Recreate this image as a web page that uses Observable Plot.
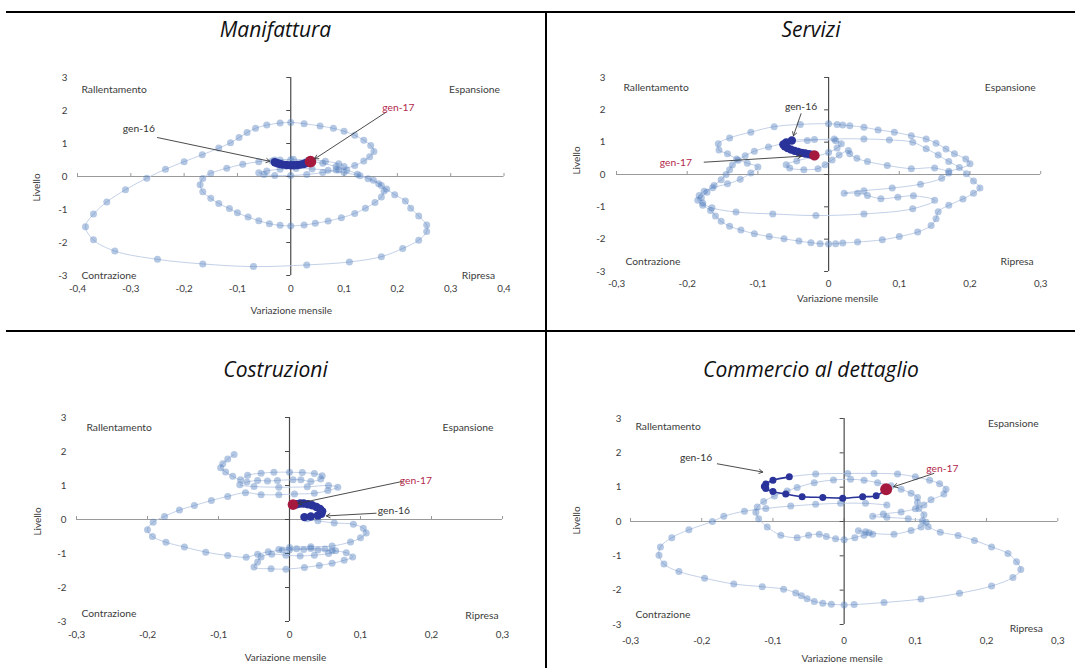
<!DOCTYPE html>
<html><head><meta charset="utf-8">
<script src="https://cdn.jsdelivr.net/npm/d3@7"></script>
<script src="https://cdn.jsdelivr.net/npm/@observablehq/plot@0.6"></script>
<style>
body{margin:0;background:#fff;}
#page{position:relative;width:1075px;height:668px;overflow:hidden;font-family:Lato,"Open Sans",sans-serif;}
.rule{position:absolute;background:#000;}
.title{position:absolute;font-family:"Open Sans",sans-serif;font-style:italic;font-size:21px;line-height:26px;text-align:center;color:#111;}
</style></head><body><div id="page"></div>
<script>
// ---------- data ----------
const titles = ["Manifattura", "Servizi", "Costruzioni", "Commercio al dettaglio"];
const yTicks = [-3, -2, -1, 0, 1, 2, 3];
const xTicksWide = [-0.4, -0.3, -0.2, -0.1, 0, 0.1, 0.2, 0.3, 0.4];
const xTicksNarrow = [-0.3, -0.2, -0.1, 0, 0.1, 0.2, 0.3];
const quadrantLabels = ["Rallentamento", "Espansione", "Contrazione", "Ripresa"];
const axisTitles = ["Variazione mensile", "Livello"];
const monthLabels = ["gen-16", "gen-17"];
const recentMonths = 13;

const manifX = [0.090,0.120,0.137,0.148,0.156,0.150,0.137,0.120,0.100,0.080,0.055,0.025,0.000,-0.020,-0.045,-0.066,-0.082,-0.097,-0.113,-0.135,-0.166,-0.200,-0.235,-0.270,-0.310,-0.345,-0.370,-0.385,-0.370,-0.330,-0.250,-0.165,-0.070,0.030,0.110,0.170,0.210,0.240,0.255,0.255,0.240,0.225,0.215,0.195,0.180,0.165,0.145,0.125,0.105,0.085,0.060,0.030,0.000,-0.030,-0.060,-0.090,-0.120,-0.150,-0.165,-0.170,-0.165,-0.150,-0.135,-0.115,-0.100,-0.080,-0.060,-0.040,-0.020,0.000,0.025,0.046,0.070,0.095,0.120,0.140,0.158,0.170,0.175,0.170,0.155,0.130,0.100,0.070,0.040,0.010,-0.020,-0.045,-0.060,-0.050,-0.030,0.000,0.030,0.060,0.085,0.100,0.090,0.065,0.035,0.005,-0.020,-0.035,
  -0.030,-0.025,-0.020,-0.015,-0.008,0.000,0.006,0.012,0.018,0.024,0.028,0.032,0.037];
const manifY = [0.20,0.33,0.47,0.60,0.76,0.94,1.10,1.25,1.37,1.46,1.53,1.60,1.64,1.62,1.56,1.46,1.33,1.18,1.02,0.86,0.66,0.45,0.22,-0.05,-0.40,-0.77,-1.14,-1.52,-1.92,-2.26,-2.51,-2.65,-2.73,-2.68,-2.59,-2.43,-2.18,-1.93,-1.67,-1.47,-1.20,-0.96,-0.74,-0.55,-0.38,-0.22,-0.07,0.07,0.20,0.30,0.40,0.47,0.51,0.50,0.45,0.37,0.25,0.10,-0.06,-0.25,-0.46,-0.66,-0.82,-0.97,-1.10,-1.23,-1.34,-1.43,-1.48,-1.50,-1.47,-1.42,-1.35,-1.25,-1.12,-0.96,-0.79,-0.62,-0.44,-0.27,-0.11,0.02,0.12,0.19,0.23,0.24,0.22,0.17,0.11,0.06,0.03,0.03,0.06,0.12,0.20,0.30,0.39,0.46,0.50,0.52,0.50,0.47,
  0.43,0.40,0.38,0.36,0.35,0.34,0.34,0.35,0.36,0.38,0.40,0.42,0.45];

const serviziX = [0.170,0.200,0.194,0.178,0.166,0.152,0.138,0.117,0.093,0.070,0.050,0.030,0.020,0.012,0.000,-0.040,-0.077,-0.110,-0.140,-0.156,-0.155,-0.143,-0.130,-0.115,-0.100,-0.110,-0.125,-0.143,-0.164,-0.176,-0.183,-0.185,-0.178,-0.167,-0.160,-0.152,-0.140,-0.124,-0.105,-0.084,-0.063,-0.042,-0.025,-0.012,0.000,0.010,0.020,0.041,0.076,0.100,0.126,0.145,0.152,0.155,0.170,0.190,0.205,0.214,0.205,0.195,0.185,0.170,0.155,0.138,0.119,0.086,0.050,0.008,-0.030,-0.060,-0.085,-0.105,-0.118,-0.128,-0.136,-0.140,-0.145,-0.152,-0.162,-0.172,-0.180,-0.178,-0.165,-0.131,-0.079,-0.018,0.050,0.119,0.150,0.120,0.098,0.074,0.055,0.041,0.022,0.050,0.090,0.130,0.160,0.170,0.150,0.117,0.083,0.055,0.040,0.030,0.028,0.015,0.005,-0.005,-0.015,-0.035,-0.055,-0.060,-0.045,-0.020,0.000,0.012,0.018,0.010,-0.020,
  -0.052,-0.060,-0.064,-0.062,-0.058,-0.053,-0.048,-0.043,-0.038,-0.033,-0.028,-0.024,-0.020];
const serviziY = [0.10,0.33,0.48,0.64,0.79,0.97,1.10,1.20,1.31,1.38,1.46,1.51,1.53,1.55,1.57,1.55,1.48,1.31,1.13,0.95,0.76,0.64,0.48,0.35,0.23,0.05,-0.15,-0.29,-0.41,-0.52,-0.65,-0.80,-0.95,-1.11,-1.28,-1.45,-1.60,-1.72,-1.83,-1.92,-1.99,-2.06,-2.11,-2.14,-2.15,-2.14,-2.12,-2.09,-2.02,-1.92,-1.78,-1.58,-1.37,-1.15,-0.95,-0.76,-0.58,-0.42,-0.20,0.02,0.22,0.40,0.60,0.80,1.00,1.07,1.10,1.10,1.05,0.97,0.85,0.72,0.58,0.44,0.30,0.15,0.00,-0.16,-0.34,-0.55,-0.72,-0.88,-1.03,-1.16,-1.22,-1.27,-1.22,-1.06,-0.80,-0.66,-0.70,-0.75,-0.65,-0.58,-0.58,-0.50,-0.42,-0.30,-0.12,0.05,0.20,0.18,0.28,0.40,0.50,0.64,0.74,0.60,0.45,0.30,0.18,0.15,0.20,0.30,0.42,0.55,0.68,0.82,0.95,1.04,1.08,
  1.05,0.99,0.93,0.87,0.82,0.77,0.73,0.70,0.67,0.65,0.63,0.61,0.59];

const costruzioniX = [-0.078,-0.087,-0.094,-0.097,-0.090,-0.080,-0.069,-0.059,-0.040,-0.022,0.000,0.018,0.035,0.046,0.044,0.030,0.016,0.005,-0.017,-0.031,-0.045,-0.060,-0.070,-0.050,-0.015,0.025,0.055,0.068,0.054,0.035,0.007,-0.015,-0.040,-0.062,-0.087,-0.110,-0.134,-0.155,-0.176,-0.192,-0.200,-0.193,-0.174,-0.148,-0.118,-0.087,-0.061,-0.045,-0.030,-0.010,0.010,0.030,0.050,0.065,0.055,0.035,0.015,-0.005,-0.025,-0.040,-0.045,-0.050,-0.026,-0.005,0.021,0.042,0.060,0.077,0.089,0.080,0.060,0.040,0.020,0.000,-0.015,0.000,0.030,0.060,0.086,0.100,0.108,0.104,0.090,0.063,0.040,0.025,
  0.021,0.030,0.040,0.045,0.046,0.043,0.038,0.032,0.026,0.020,0.015,0.010,0.005];
const costruzioniY = [1.91,1.78,1.64,1.52,1.40,1.27,1.17,1.30,1.36,1.39,1.39,1.38,1.35,1.29,1.19,1.12,1.17,1.17,1.15,1.13,1.15,1.10,1.02,0.97,0.95,0.96,1.00,0.95,0.85,0.77,0.75,0.73,0.73,0.79,0.68,0.56,0.41,0.28,0.09,-0.08,-0.30,-0.50,-0.67,-0.81,-0.96,-1.06,-1.11,-1.02,-0.95,-0.90,-0.86,-0.85,-0.87,-0.92,-1.00,-1.05,-1.07,-1.05,-1.02,-1.10,-1.25,-1.40,-1.45,-1.46,-1.41,-1.35,-1.29,-1.20,-1.10,-0.98,-0.92,-0.90,-0.88,-0.90,-0.88,-0.82,-0.80,-0.78,-0.66,-0.54,-0.40,-0.26,-0.14,-0.10,-0.04,0.02,
  0.07,0.09,0.12,0.17,0.24,0.31,0.37,0.42,0.45,0.47,0.47,0.45,0.44];

const commercioX = [0.060,0.030,-0.005,-0.040,-0.075,-0.110,-0.140,-0.169,-0.185,-0.218,-0.242,-0.258,-0.260,-0.253,-0.232,-0.196,-0.155,-0.115,-0.085,-0.068,-0.060,-0.052,-0.042,-0.030,-0.018,0.000,0.014,0.056,0.108,0.162,0.207,0.237,0.248,0.242,0.230,0.207,0.183,0.160,0.135,0.118,0.110,0.112,0.105,0.103,0.103,0.094,0.080,0.066,0.047,0.028,0.009,-0.015,-0.042,-0.066,-0.080,-0.098,-0.113,-0.122,-0.124,-0.120,-0.108,-0.089,-0.066,-0.050,-0.035,-0.025,-0.012,0.000,0.015,0.028,0.040,0.030,0.020,0.035,0.070,0.094,0.108,0.115,0.090,0.060,0.040,0.055,0.080,0.100,0.112,0.122,0.140,0.143,0.134,0.120,0.100,0.075,0.042,0.005,-0.040,
  -0.077,-0.100,-0.110,-0.112,-0.110,-0.100,-0.082,-0.059,-0.030,-0.002,0.026,0.045,0.059];
const commercioY = [0.48,0.53,0.53,0.50,0.45,0.38,0.30,0.15,0.00,-0.24,-0.47,-0.74,-0.98,-1.24,-1.46,-1.65,-1.82,-1.90,-1.97,-2.08,-2.16,-2.25,-2.33,-2.38,-2.41,-2.43,-2.42,-2.36,-2.26,-2.09,-1.88,-1.63,-1.40,-1.17,-0.93,-0.74,-0.55,-0.41,-0.31,-0.15,0.02,0.20,0.38,0.55,0.70,0.82,0.94,1.04,1.13,1.20,1.23,1.21,1.13,0.99,0.89,0.74,0.58,0.42,0.27,0.08,-0.16,-0.40,-0.47,-0.40,-0.37,-0.44,-0.50,-0.53,-0.47,-0.40,-0.37,-0.30,-0.27,-0.33,-0.37,-0.26,-0.16,-0.02,0.08,0.12,0.15,0.22,0.28,0.37,0.48,0.63,0.80,0.94,1.10,1.20,1.30,1.38,1.40,1.40,1.38,
  1.30,1.20,1.09,1.02,0.96,0.875,0.80,0.72,0.70,0.68,0.72,0.75,0.94];

// ---------- layout (page pixels) & styling ----------
const page = document.getElementById("page");
const fmt = d => String(d).replace(".", ",");
const C = {light: "#4f7dbd", lightLine: "#bccbe4", dark: "#29339a", red: "#a6193f", redText: "#b3284c", text: "#3c3c3c", axisV: "#4a4a4a", axisH: "#9a9a9a"};

function addRule(l, t, w, h) {
  const d = document.createElement("div");
  d.className = "rule";
  Object.assign(d.style, {left: l + "px", top: t + "px", width: w + "px", height: h + "px"});
  page.appendChild(d);
}
addRule(6, 11, 1069, 2);
addRule(6, 330, 1069, 2);
addRule(545, 11, 2, 657);

function addTitle(text, left, width, top) {
  const d = document.createElement("div");
  d.className = "title";
  d.textContent = text;
  Object.assign(d.style, {left: left + "px", width: width + "px", top: top + "px"});
  page.appendChild(d);
}
addTitle(titles[0], 6, 539, 16);
addTitle(titles[1], 547, 528, 16);
addTitle(titles[2], 6, 539, 356);
addTitle(titles[3], 547, 528, 356);

const panels = [
  {xs: manifX, ys: manifY, xDomain: [-0.4, 0.4], xTicks: xTicksWide,
   frame: {x0: 77, x1: 503.5, y0: 77, y1: 275}, xPad: 10, yPad: 10,
   xTitle: [0.5, 35], yTitle: [-41, 11],
   quad: [[4, 12], [-4, 12], [4, 0], [-9, 0]], r: [3.5, 4.2, 5.8],
   notes: [{label: monthLabels[0], lx: -0.285, ly: 1.45, ax: -0.25, ay: 1.18, target: "first", inset: 5, color: "#333"},
           {label: monthLabels[1], lx: 0.202, ly: 2.09, ax: 0.178, ay: 1.94, target: "last", inset: 5, color: C.redText}]},
  {xs: serviziX, ys: serviziY, xDomain: [-0.3, 0.3], xTicks: xTicksNarrow,
   frame: {x0: 615.6, x1: 1039.8, y0: 77, y1: 271}, xPad: 9, yPad: 11,
   xTitle: [9, 27], yTitle: [-40, -14],
   quad: [[7, 10], [-5, 10], [9, -10], [-7, -10]], r: [3.5, 4.2, 5.2],
   notes: [{label: monthLabels[0], lx: -0.039, ly: 2.10, ax: -0.039, ay: 1.88, target: "first", inset: 5, color: "#333"},
           {label: monthLabels[1], lx: -0.216, ly: 0.38, ax: -0.176, ay: 0.38, target: "last", inset: 13, color: C.redText}]},
  {xs: costruzioniX, ys: costruzioniY, xDomain: [-0.3, 0.3], xTicks: xTicksNarrow,
   frame: {x0: 75.7, x1: 501.7, y0: 417, y1: 621}, xPad: 9.5, yPad: 10,
   xTitle: [-4, 36], yTitle: [-39, 2],
   quad: [[10, 10], [-9, 10], [5, -8], [-4, -6]], r: [3.5, 4.2, 5.4],
   notes: [{label: monthLabels[1], lx: 0.178, ly: 1.15, ax: 0.159, ay: 1.12, target: "last", inset: 5, color: C.redText},
           {label: monthLabels[0], lx: 0.147, ly: 0.26, ax: 0.122, ay: 0.185, target: "first", inset: 22, color: "#333"}]},
  {xs: commercioX, ys: commercioY, xDomain: [-0.3, 0.3], xTicks: xTicksNarrow,
   frame: {x0: 629.7, x1: 1057, y0: 418, y1: 624}, xPad: 12.5, yPad: 9,
   xTitle: [-2, 34], yTitle: [-54, -1],
   quad: [[5, 8], [-19, 5], [5, -10], [-15, 4]], r: [3.5, 3.5, 6.0],
   notes: [{label: monthLabels[0], lx: -0.208, ly: 1.87, ax: -0.178, ay: 1.68, target: "first", inset: 27, color: "#333"},
           {label: monthLabels[1], lx: 0.138, ly: 1.53, ax: 0.126, ay: 1.40, target: "last", inset: 8, color: C.redText}]}
];

function drawPanel(p) {
  const rows = p.xs.map((x, i) => ({x, y: p.ys[i]}));
  const n = rows.length;
  const past = rows.slice(0, n - recentMonths);
  const recent = rows.slice(n - recentMonths);
  const first = recent[0], last = recent[recent.length - 1];
  const F = p.frame;
  const mL = 62, mR = 14, mT = 16, mB = 46;
  const anchors = ["top-left", "top-right", "bottom-left", "bottom-right"];
  const tAnchors = ["start", "end", "start", "end"];
  const quadMarks = quadrantLabels.map((q, i) => Plot.text([q], {
    text: d => d, frameAnchor: anchors[i], dx: p.quad[i][0], dy: p.quad[i][1],
    textAnchor: tAnchors[i], lineAnchor: "middle", fill: C.text, fontSize: 10.3}));
  const noteMarks = p.notes.flatMap(a => {
    const t = a.target === "first" ? first : last;
    return [
      Plot.arrow([a], {x1: "ax", y1: "ay", x2: () => t.x, y2: () => t.y, stroke: "#383838", strokeWidth: 0.9, headLength: 7, insetEnd: a.inset}),
      Plot.text([a], {x: "lx", y: "ly", text: "label", fill: a.color, fontSize: 10.3, textAnchor: "middle", lineAnchor: "middle"})
    ];
  });
  const chart = Plot.plot({
    width: F.x1 - F.x0 + mL + mR,
    height: F.y1 - F.y0 + mT + mB,
    marginLeft: mL, marginRight: mR, marginTop: mT, marginBottom: mB,
    style: {fontFamily: "Lato, sans-serif", fontSize: "9.8px", color: C.text, background: "transparent", overflow: "visible"},
    x: {domain: p.xDomain, ticks: p.xTicks, tickFormat: fmt, tickSize: 0, tickPadding: p.xPad, label: null},
    y: {domain: [-3, 3], ticks: yTicks, tickFormat: fmt, tickSize: 0, tickPadding: p.yPad, label: null},
    marks: [
      Plot.ruleY([0], {stroke: C.axisH, strokeWidth: 1.2}),
      Plot.ruleX(p.xTicks, {y1: 0, y2: 0, insetTop: -3, stroke: C.axisH}),
      Plot.ruleX([0], {stroke: C.axisV, strokeWidth: 1.2}),
      Plot.ruleY(yTicks, {x1: 0, x2: 0, insetLeft: -4, stroke: C.axisV}),
      Plot.line(rows, {x: "x", y: "y", stroke: C.lightLine, strokeWidth: 0.9, curve: "catmull-rom"}),
      Plot.dot(past, {x: "x", y: "y", r: p.r[0], fill: C.light, fillOpacity: 0.42}),
      Plot.line(recent, {x: "x", y: "y", stroke: C.dark, strokeWidth: 1.6, curve: "catmull-rom"}),
      Plot.dot(recent.slice(0, -1), {x: "x", y: "y", r: p.r[1], fill: C.dark}),
      Plot.dot([last], {x: "x", y: "y", r: p.r[2], fill: C.red}),
      ...quadMarks,
      Plot.text([axisTitles[0]], {text: d => d, frameAnchor: "bottom", dx: p.xTitle[0], dy: p.xTitle[1], textAnchor: "middle", lineAnchor: "middle", fill: C.text, fontSize: 10}),
      Plot.text([axisTitles[1]], {text: d => d, frameAnchor: "left", dx: p.yTitle[0], dy: p.yTitle[1], rotate: -90, textAnchor: "middle", lineAnchor: "middle", fill: C.text, fontSize: 10}),
      ...noteMarks
    ]
  });
  chart.style.position = "absolute";
  chart.style.left = (F.x0 - mL) + "px";
  chart.style.top = (F.y0 - mT) + "px";
  page.appendChild(chart);
}
panels.forEach(drawPanel);
</script></body></html>
